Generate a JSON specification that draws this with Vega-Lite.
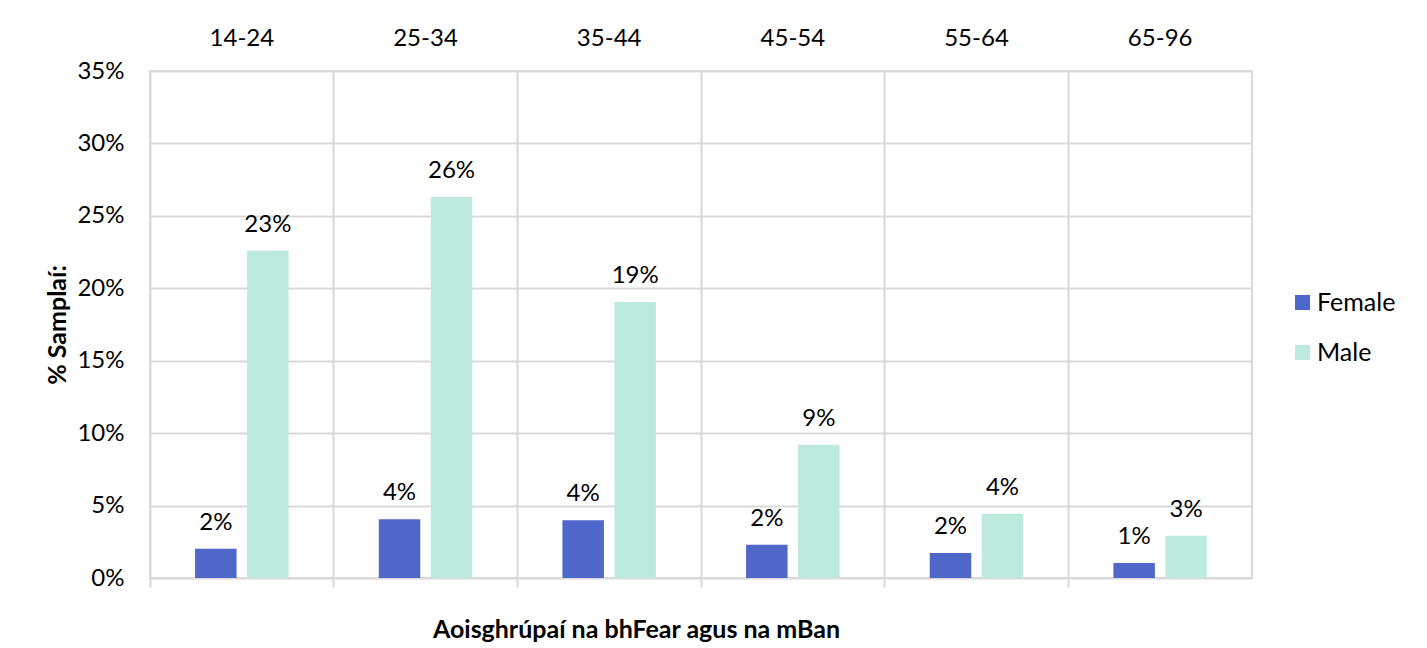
{
  "$schema": "https://vega.github.io/schema/vega-lite/v6.json",
  "width": 1102,
  "height": 507,
  "autosize": {"type": "none"},
  "padding": {"left": 150, "top": 71, "right": 175, "bottom": 70},
  "background": "white",
  "config": {
    "font": "Lato",
    "view": {"stroke": "#d9d9d9", "strokeWidth": 2}
  },
  "data": {
    "values": [
      {"age": "14-24", "gender": "Female", "value": 0.0202},
      {"age": "14-24", "gender": "Male", "value": 0.226},
      {"age": "25-34", "gender": "Female", "value": 0.0405},
      {"age": "25-34", "gender": "Male", "value": 0.263},
      {"age": "35-44", "gender": "Female", "value": 0.0398},
      {"age": "35-44", "gender": "Male", "value": 0.1905},
      {"age": "45-54", "gender": "Female", "value": 0.023},
      {"age": "45-54", "gender": "Male", "value": 0.092},
      {"age": "55-64", "gender": "Female", "value": 0.0173},
      {"age": "55-64", "gender": "Male", "value": 0.0443},
      {"age": "65-96", "gender": "Female", "value": 0.0104},
      {"age": "65-96", "gender": "Male", "value": 0.0292}
    ]
  },
  "resolve": {"axis": {"x": "independent"}},
  "layer": [
    {
      "mark": {"type": "bar"},
      "encoding": {
        "x": {
          "field": "age", "type": "nominal",
          "scale": {"paddingInner": 0, "paddingOuter": 0},
          "axis": {
            "orient": "top", "title": null, "labelAngle": 0,
            "labelFontSize": 24, "labelColor": "#000000", "labelFont": "Lato",
            "labelBaseline": "alphabetic", "labelPadding": 26,
            "ticks": false, "tickSize": 0, "domain": false,
            "grid": true, "gridColor": "#d9d9d9", "gridWidth": 2, "bandPosition": 0
          }
        },
        "xOffset": {
          "field": "gender", "type": "nominal",
          "scale": {"paddingInner": 0.202, "paddingOuter": 0.867}
        },
        "y": {
          "field": "value", "type": "quantitative",
          "scale": {"domain": [0, 0.35], "nice": false},
          "axis": {
            "values": [0, 0.05, 0.1, 0.15, 0.2, 0.25, 0.3, 0.35],
            "format": ".0%",
            "title": "% Samplaí:",
            "titleFontSize": 25, "titleFontWeight": "bold", "titleColor": "#000000",
            "titleX": -85, "titleBaseline": "alphabetic",
            "labelFontSize": 24, "labelColor": "#000000", "labelPadding": 26,
            "ticks": false, "domain": false,
            "grid": true, "gridColor": "#d9d9d9", "gridWidth": 2
          }
        },
        "color": {
          "field": "gender", "type": "nominal",
          "scale": {"domain": ["Female", "Male"], "range": ["#4f67c8", "#bdeadf"]},
          "legend": {
            "title": null, "orient": "none", "legendX": 1140, "legendY": 219,
            "symbolType": "square", "symbolSize": 225, "symbolStrokeWidth": 0,
            "labelFontSize": 25, "labelColor": "#000000", "labelOffset": 2,
            "rowPadding": 24
          }
        }
      }
    },
    {
      "mark": {"type": "text", "baseline": "alphabetic", "dy": -19, "fontSize": 24, "color": "#000000"},
      "encoding": {
        "x": {
          "field": "age", "type": "nominal",
          "scale": {"paddingInner": 0, "paddingOuter": 0},
          "axis": {
            "orient": "bottom", "labels": false, "domain": false, "grid": false,
            "ticks": true, "tickSize": 9, "tickColor": "#d9d9d9", "tickWidth": 2, "bandPosition": 0,
            "title": "Aoisghrúpaí na bhFear agus na mBan",
            "titleFontSize": 25, "titleFontWeight": "bold", "titleColor": "#000000",
            "titleX": 486, "titleY": 59, "titleBaseline": "alphabetic", "titleAlign": "center"
          }
        },
        "xOffset": {"field": "gender", "type": "nominal"},
        "y": {"field": "value", "type": "quantitative"},
        "text": {"field": "value", "type": "quantitative", "format": ".0%"}
      }
    }
  ]
}
